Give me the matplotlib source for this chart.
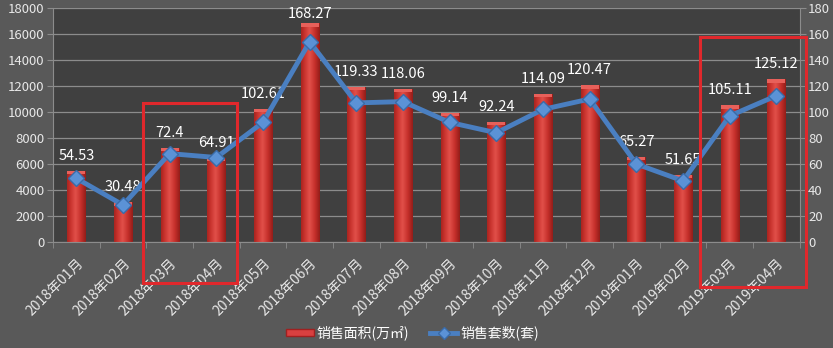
import matplotlib
matplotlib.use("Agg")
import matplotlib.pyplot as plt
import numpy as np
from matplotlib.patches import Rectangle
from matplotlib.lines import Line2D

plt.rcParams['font.family'] = ['Noto Sans CJK SC', 'DejaVu Sans']

categories = ["2018年01月", "2018年02月", "2018年03月", "2018年04月", "2018年05月",
              "2018年06月", "2018年07月", "2018年08月", "2018年09月", "2018年10月",
              "2018年11月", "2018年12月", "2019年01月", "2019年02月", "2019年03月",
              "2019年04月"]
area_labels = [54.53, 30.48, 72.4, 64.91, 102.61, 168.27, 119.33, 118.06, 99.14,
               92.24, 114.09, 120.47, 65.27, 51.65, 105.11, 125.12]
area_values = [v * 100 for v in area_labels]
units = [49, 28.5, 68, 65, 92, 154, 107, 108, 92, 84, 102, 110, 60, 47, 97, 112.5]

bg_out = '#595959'
bg_in = '#404040'
txt = '#e8e8e8'

fig = plt.figure(figsize=(8.33, 3.48), dpi=100, facecolor=bg_out)
ax = fig.add_axes([0.0636, 0.3046, 0.8964, 0.6724])
ax.set_facecolor(bg_in)
ax2 = ax.twinx()

x = np.arange(len(categories))
w = 0.39
bars = ax.bar(x, area_values, width=w, color='#c0302c', zorder=2)

grad = np.linspace(0, 1, 256)
prof = 1 - np.abs(grad - 0.45) * 1.7
prof = np.clip(prof, 0, 1)
cmap = matplotlib.colors.LinearSegmentedColormap.from_list('r', ['#8a1a16', '#c42f2a', '#e2504a'])
img = np.tile(prof, (2, 1))
for b in bars:
    bx, by = b.get_x(), b.get_y()
    bw, bh = b.get_width(), b.get_height()
    im = ax.imshow(img, extent=[bx, bx + bw, by, by + bh], aspect='auto', cmap=cmap,
                   zorder=2.1, interpolation='bicubic', vmin=0, vmax=1)
    im.set_clip_path(b)
    ax.add_patch(Rectangle((bx, bh - 250), bw, 250, color='#e8605a', zorder=2.2, lw=0))

ax.set_xlim(-0.5, len(categories) - 0.5)
ax.set_ylim(0, 18000)
ax.set_yticks(np.arange(0, 18001, 2000))
ax.grid(axis='y', color='#8c8c8c', lw=0.9, zorder=0)
ax.set_axisbelow(True)
ax.set_xticks(x)
ax.set_xticklabels(categories, rotation=45, ha='right', rotation_mode='anchor',
                   color=txt, fontsize=10)
ax.tick_params(axis='x', length=0, pad=10)
ax.set_xticks(np.arange(-0.5, len(categories)), minor=True)
ax.tick_params(axis='x', which='minor', length=4, color='#8c8c8c')
ax.tick_params(axis='y', colors=txt, labelsize=9.5, length=4, color='#8c8c8c', pad=2)
for s in ['top', 'right']:
    ax.spines[s].set_visible(False)
ax.spines['left'].set_color('#8c8c8c')
ax.spines['bottom'].set_color('#8c8c8c')

ymax_label = 17540
for xi, v, lab in zip(x, area_values, area_labels):
    disp = ax.transData.transform((xi, v))
    top_disp = ax.transData.transform((xi, ymax_label))
    ypix = min(disp[1] + 15, top_disp[1])
    ax.text(disp[0], ypix, f"{lab:g}", transform=None, ha='center', va='center',
            color='white', fontsize=10.5, zorder=5)

ax2.set_ylim(0, 180)
ax2.set_yticks(np.arange(0, 181, 20))
ax2.tick_params(axis='y', colors=txt, labelsize=9.5, length=4, color='#8c8c8c', pad=2)
for s in ['top', 'left', 'bottom']:
    ax2.spines[s].set_visible(False)
ax2.spines['right'].set_color('#8c8c8c')
ax2.plot(x, units, color='#4a7fc1', lw=3.5, marker='D', markersize=8,
         markerfacecolor='#5b92d6', markeredgecolor='#3a6ba8', zorder=4)

fig.patches.append(Rectangle((143 / 833, 1 - 283 / 348), 94 / 833, 180 / 348,
                             transform=fig.transFigure, fill=False, ec='#e0282c', lw=2.2, zorder=10))
fig.patches.append(Rectangle((700 / 833, 1 - 287 / 348), 106 / 833, 250 / 348,
                             transform=fig.transFigure, fill=False, ec='#e0282c', lw=2.2, zorder=10))

h1 = Rectangle((0, 0), 1, 1, fc='#d84040', ec='#a02020')
h2 = Line2D([], [], color='#4a7fc1', lw=3.5, marker='D', markersize=6,
            markerfacecolor='#5b92d6', markeredgecolor='#3a6ba8')
fig.legend([h1, h2], ['销售面积(万㎡)', '销售套数(套)'], loc='center',
           bbox_to_anchor=(0.495, 1 - 333 / 348), ncol=2, frameon=False,
           labelcolor='white', fontsize=10, handlelength=2.0, handleheight=0.5,
           columnspacing=1.5, handletextpad=0.2)

fig.savefig('out.png', dpi=100, facecolor=bg_out)
